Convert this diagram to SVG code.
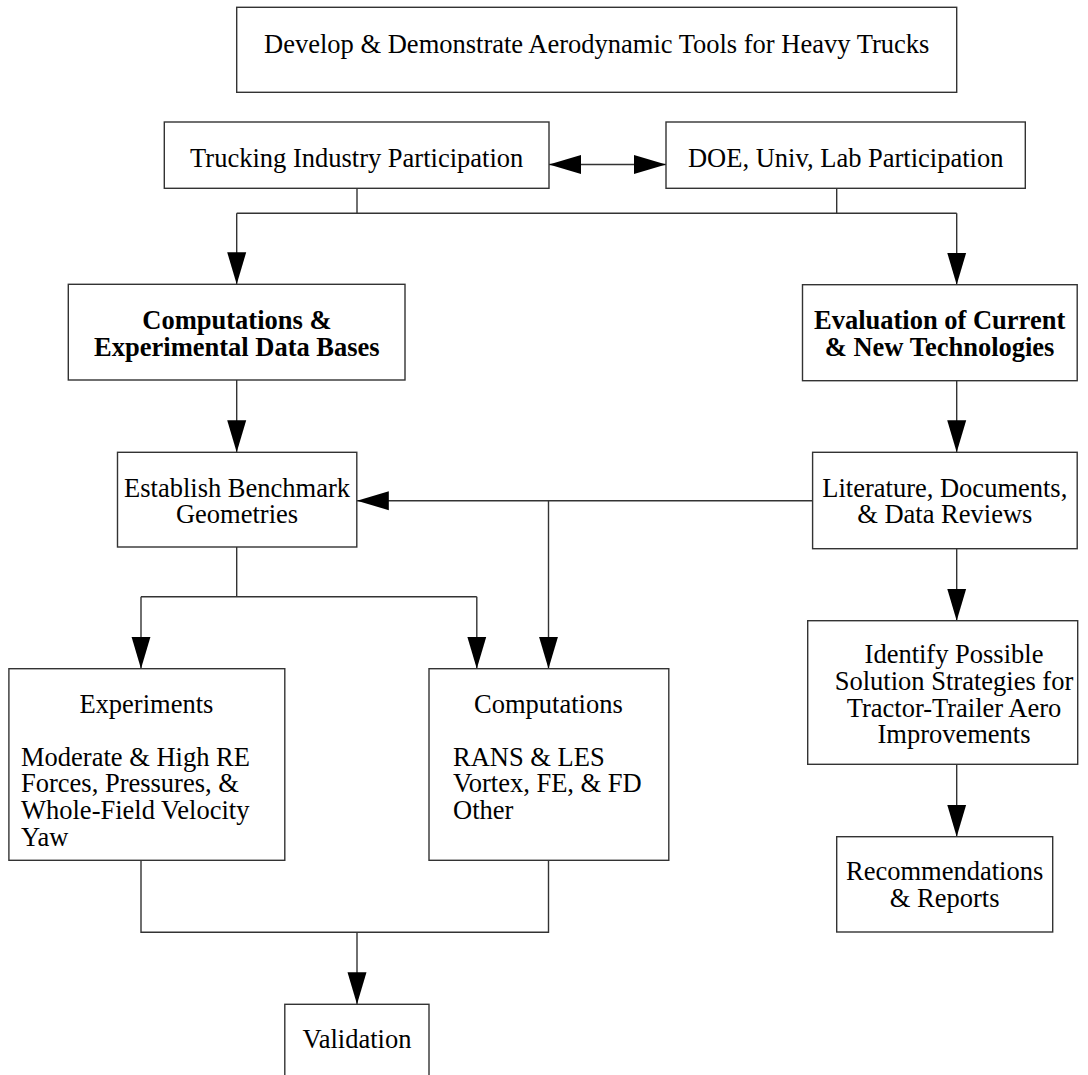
<svg xmlns="http://www.w3.org/2000/svg" width="1088" height="1075" viewBox="0 0 1088 1075">
<style>
.box{fill:#fff;stroke:#333;stroke-width:1.4}
.t{font-family:"Liberation Serif","Times New Roman",serif;font-size:26.5px;fill:#000}
.c{text-anchor:middle}
.b{font-weight:bold}
.ln{fill:none;stroke:#333;stroke-width:1.4}
</style>
<defs>
<marker id="ah" markerUnits="userSpaceOnUse" markerWidth="32" markerHeight="20" refX="32" refY="9.5" orient="auto-start-reverse" viewBox="0 0 32 19">
<path d="M0,0 L32,9.5 L0,19 Z" fill="#000"/>
</marker>
</defs>
<rect width="1088" height="1075" fill="#fff"/>
<g id="connectors">
<line class="ln" x1="549" y1="164.5" x2="666" y2="164.5" marker-start="url(#ah)" marker-end="url(#ah)"/>
<polyline class="ln" points="357,188.3 357,213.3"/>
<polyline class="ln" points="836.7,188.3 836.7,213.3"/>
<polyline class="ln" points="236.7,213.3 956.7,213.3"/>
<line class="ln" x1="236.7" y1="213.3" x2="236.7" y2="284.3" marker-end="url(#ah)"/>
<line class="ln" x1="956.7" y1="213.3" x2="956.7" y2="284.7" marker-end="url(#ah)"/>
<line class="ln" x1="236.7" y1="380" x2="236.7" y2="452.3" marker-end="url(#ah)"/>
<line class="ln" x1="956.7" y1="380.7" x2="956.7" y2="452.3" marker-end="url(#ah)"/>
<line class="ln" x1="812.6" y1="500.7" x2="356.8" y2="500.7" marker-end="url(#ah)"/>
<line class="ln" x1="548.5" y1="500.7" x2="548.5" y2="668.7" marker-end="url(#ah)"/>
<polyline class="ln" points="236.7,547 236.7,596.7"/>
<polyline class="ln" points="141,596.7 476.8,596.7"/>
<line class="ln" x1="141" y1="596.7" x2="141" y2="668.7" marker-end="url(#ah)"/>
<line class="ln" x1="476.8" y1="596.7" x2="476.8" y2="668.7" marker-end="url(#ah)"/>
<line class="ln" x1="956.7" y1="548.7" x2="956.7" y2="620.7" marker-end="url(#ah)"/>
<line class="ln" x1="956.7" y1="764.3" x2="956.7" y2="836.7" marker-end="url(#ah)"/>
<polyline class="ln" points="141,860.3 141,932.3 548.5,932.3 548.5,860.3"/>
<line class="ln" x1="357" y1="932.3" x2="357" y2="1004.3" marker-end="url(#ah)"/>
</g>
<g id="n-top">
<rect class="box" x="236.7" y="7.3" width="720" height="85"/>
<text class="t c" x="596.7" y="53">Develop &amp; Demonstrate Aerodynamic Tools for Heavy Trucks</text>
</g>
<g id="n-trucking">
<rect class="box" x="164.3" y="122" width="384.7" height="66.3"/>
<text class="t c" x="356.7" y="167">Trucking Industry Participation</text>
</g>
<g id="n-doe">
<rect class="box" x="666" y="122" width="359.3" height="66.3"/>
<text class="t c" x="845.7" y="167">DOE, Univ, Lab Participation</text>
</g>
<g id="n-compdb">
<rect class="box" x="68.3" y="284.3" width="336.7" height="95.7"/>
<text class="t c b" x="236.9" y="329">Computations &amp;</text>
<text class="t c b" x="236.9" y="356">Experimental Data Bases</text>
</g>
<g id="n-eval">
<rect class="box" x="802.5" y="284.7" width="274.7" height="96"/>
<text class="t c b" x="939.6" y="329">Evaluation of Current</text>
<text class="t c b" x="939.6" y="356">&amp; New Technologies</text>
</g>
<g id="n-establish">
<rect class="box" x="117.5" y="452.3" width="239.3" height="94.7"/>
<text class="t c" x="237" y="496.7">Establish Benchmark</text>
<text class="t c" x="237" y="523.3">Geometries</text>
</g>
<g id="n-literature">
<rect class="box" x="812.6" y="452.3" width="264.6" height="96.4"/>
<text class="t c" x="944.8" y="496.7">Literature, Documents,</text>
<text class="t c" x="944.8" y="523.3">&amp; Data Reviews</text>
</g>
<g id="n-experiments">
<rect class="box" x="8.9" y="668.7" width="275.9" height="191.6"/>
<text class="t c" x="146.4" y="713.3">Experiments</text>
<text class="t" x="21" y="765.7">Moderate &amp; High RE</text>
<text class="t" x="21" y="792.4">Forces, Pressures, &amp;</text>
<text class="t" x="21" y="819.1">Whole-Field Velocity</text>
<text class="t" x="21" y="845.8">Yaw</text>
</g>
<g id="n-computations">
<rect class="box" x="429" y="668.7" width="239.8" height="191.6"/>
<text class="t c" x="548.4" y="713.3">Computations</text>
<text class="t" x="453" y="765.7">RANS &amp; LES</text>
<text class="t" x="453" y="792.4">Vortex, FE, &amp; FD</text>
<text class="t" x="453" y="819.1">Other</text>
</g>
<g id="n-identify">
<rect class="box" x="807.7" y="620.7" width="270" height="143.6"/>
<text class="t c" x="954" y="663.3">Identify Possible</text>
<text class="t c" x="954" y="690">Solution Strategies for</text>
<text class="t c" x="954" y="716.7">Tractor-Trailer Aero</text>
<text class="t c" x="954" y="743.3">Improvements</text>
</g>
<g id="n-recommend">
<rect class="box" x="836.7" y="836.7" width="216" height="95.3"/>
<text class="t c" x="944.7" y="880">Recommendations</text>
<text class="t c" x="944.7" y="906.7">&amp; Reports</text>
</g>
<g id="n-validation">
<rect class="box" x="284.8" y="1004.3" width="144.2" height="80"/>
<text class="t c" x="357" y="1048.3">Validation</text>
</g>
</svg>
